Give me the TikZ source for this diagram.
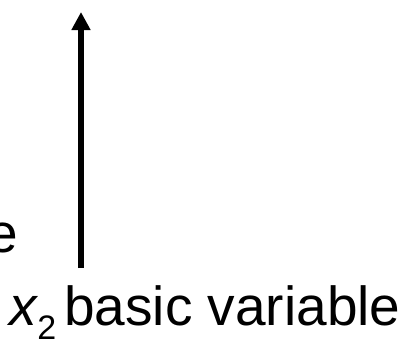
\documentclass[tikz,border=0pt]{standalone}
\usepackage{fontspec}
\setmainfont{Liberation Sans}
\usepackage{tikz}
\usetikzlibrary{arrows.meta,positioning}
\definecolor{ink}{HTML}{000000}
\newcommand{\subtwo}{\kern-1pt\raisebox{-0.26em}{\fontsize{34}{38}\selectfont 2}}
\tikzset{label text/.style={font=\fontsize{55}{60}\selectfont,text=ink,inner sep=0pt},
  arrow/.style={-{Triangle[length=18pt,width=18pt]},line width=6.5pt,draw=ink}}

\begin{document}
\begin{tikzpicture}[x=1pt,y=1pt]
\useasboundingbox (0,0) rectangle (401,341);
\node[label text,anchor=base east] (prev) at (18,89) {e};
\node[label text,anchor=base west] (basic) at (9,16)
{\textit{x}\subtwo\hspace{8pt}basic variable};
\coordinate (tail) at (81,73);
\coordinate (head) at (81,329);
\draw[arrow] (tail) -- (head);
\end{tikzpicture}
\end{document}
